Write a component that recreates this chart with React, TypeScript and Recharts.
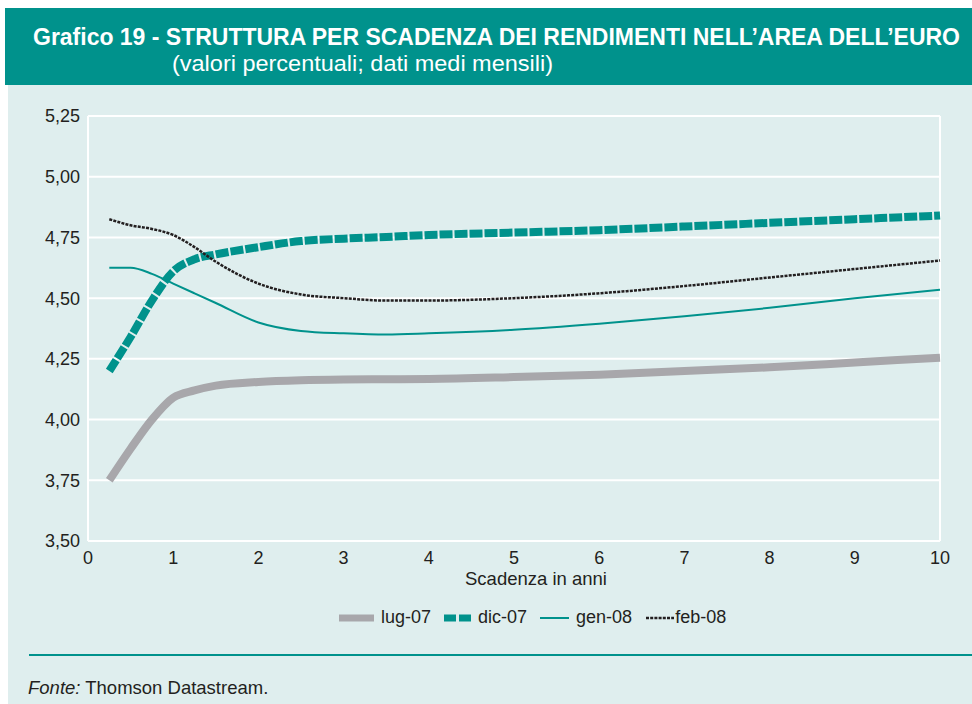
import React from "react";
import { LineChart, Line, XAxis, YAxis, CartesianGrid, ReferenceLine } from "recharts";

const maturities = [0.25, 0.5, 0.75, 1, 1.25, 1.5, 2, 2.5, 3, 3.5, 4, 5, 6, 7, 8, 9, 10];
const lug07 = [3.75, 3.88, 4.0, 4.09, 4.12, 4.14, 4.155, 4.162, 4.165, 4.166, 4.167, 4.175, 4.185, 4.2, 4.215, 4.235, 4.255];
const dic07 = [4.2, 4.34, 4.49, 4.61, 4.66, 4.68, 4.71, 4.735, 4.745, 4.752, 4.76, 4.77, 4.78, 4.795, 4.81, 4.825, 4.84];
const gen08 = [4.625, 4.625, 4.6, 4.56, 4.52, 4.48, 4.4, 4.365, 4.355, 4.35, 4.355, 4.37, 4.395, 4.425, 4.46, 4.5, 4.535];
const feb08 = [4.825, 4.8, 4.785, 4.76, 4.71, 4.65, 4.56, 4.515, 4.5, 4.49, 4.49, 4.5, 4.52, 4.55, 4.585, 4.62, 4.655];
const yTicks = [3.5, 3.75, 4, 4.25, 4.5, 4.75, 5, 5.25];
const xTicks = [0, 1, 2, 3, 4, 5, 6, 7, 8, 9, 10];
const seriesNames = ["lug-07", "dic-07", "gen-08", "feb-08"];

const data = maturities.map((m, i) => ({ m, lug: lug07[i], dic: dic07[i], gen: gen08[i], feb: feb08[i] }));

const TEAL = "#00928c";
const GRAY = "#a8a7ab";
const DARK = "#231f20";
const BG = "#dfeeee";
const FONT = "'Liberation Sans', Arial, sans-serif";

const fmt = (v: number) => v.toFixed(2).replace(".", ",");

const LegendBox = () => {
  const swatches = [
    { s: <line x1={0} y1={7} x2={35} y2={7} stroke={GRAY} strokeWidth={7} />, w: 36 },
    { s: <line x1={0} y1={7} x2={27} y2={7} stroke={TEAL} strokeWidth={7} strokeDasharray="12 3" />, w: 28 },
    { s: <line x1={0} y1={7} x2={29} y2={7} stroke={TEAL} strokeWidth={2} />, w: 30 },
    { s: <line x1={0} y1={7} x2={28} y2={7} stroke={DARK} strokeWidth={2.5} strokeDasharray="3 1.2" />, w: 28 },
  ];
  return (
    <div style={{ position: "absolute", left: 339, top: 607, display: "flex", alignItems: "center", fontFamily: FONT, fontSize: 18, color: DARK }}>
      {seriesNames.map((name, i) => (
        <div key={name} style={{ display: "flex", alignItems: "center", marginRight: i === 2 ? 14 : 13 }}>
          <svg width={swatches[i].w} height={14} style={{ marginRight: i === 3 ? 1 : 6 }}>{swatches[i].s}</svg>
          <span>{name}</span>
        </div>
      ))}
    </div>
  );
};

export default function App() {
  return (
    <div style={{ position: "absolute", left: 0, top: 0, width: 972, height: 704, background: "#fff", overflow: "hidden", fontFamily: FONT }}>
      <div style={{ position: "absolute", left: 8, top: 85, width: 964, height: 619, background: BG }} />
      <svg style={{ position: "absolute", left: 5, top: 8 }} width={967} height={77}>
        <rect x={0} y={0} width={967} height={77} fill={TEAL} />
        <text x={28} y={37} fill="#fff" fontFamily={FONT} fontWeight="bold" fontSize={23} textLength={927} lengthAdjust="spacingAndGlyphs">
          Grafico 19 - STRUTTURA PER SCADENZA DEI RENDIMENTI NELL’AREA DELL’EURO
        </text>
        <text x={167} y={63} fill="#fff" fontFamily={FONT} fontSize={22} textLength={381} lengthAdjust="spacingAndGlyphs">
          (valori percentuali; dati medi mensili)
        </text>
      </svg>
      <div style={{ position: "absolute", left: 0, top: 0 }}>
        <LineChart width={972} height={640} data={data} margin={{ top: 116, right: 32, left: 28, bottom: 59 }}>
          <CartesianGrid vertical={false} stroke="#ffffff" strokeWidth={2} />
          <XAxis
            dataKey="m"
            type="number"
            domain={[0, 10]}
            ticks={xTicks}
            tickLine={false}
            tickSize={0}
            tickMargin={10}
            axisLine={{ stroke: "#ffffff", strokeWidth: 2 }}
            tick={{ fill: DARK, fontSize: 18, fontFamily: FONT }}
            height={40}
            label={{ value: "Scadenza in anni", position: "insideBottom", offset: -4, dx: 22, fill: DARK, fontSize: 18.5, fontFamily: FONT }}
          />
          <YAxis
            type="number"
            domain={[3.5, 5.25]}
            ticks={yTicks}
            tickFormatter={fmt}
            tickLine={false}
            tickSize={0}
            tickMargin={8}
            width={60}
            axisLine={{ stroke: "#ffffff", strokeWidth: 2 }}
            tick={{ fill: DARK, fontSize: 18, fontFamily: FONT }}
            interval={0}
          />
          <ReferenceLine x={10} stroke="#ffffff" strokeWidth={2} />
          <Line type="monotone" dataKey="lug" name="lug-07" stroke={GRAY} strokeWidth={8} dot={false} isAnimationActive={false} />
          <Line type="monotone" dataKey="dic" name="dic-07" stroke={TEAL} strokeWidth={8} strokeDasharray="13 2" dot={false} isAnimationActive={false} />
          <Line type="monotone" dataKey="gen" name="gen-08" stroke={TEAL} strokeWidth={2} dot={false} isAnimationActive={false} />
          <Line type="monotone" dataKey="feb" name="feb-08" stroke={DARK} strokeWidth={2.5} strokeDasharray="3 1.2" dot={false} isAnimationActive={false} />
        </LineChart>
      </div>
      <LegendBox />
      <div style={{ position: "absolute", left: 29, top: 654, width: 943, height: 2, background: TEAL }} />
      <div style={{ position: "absolute", left: 28, top: 677, fontSize: 18.5, color: DARK, fontFamily: FONT }}>
        <i>Fonte:</i> Thomson Datastream.
      </div>
    </div>
  );
}
